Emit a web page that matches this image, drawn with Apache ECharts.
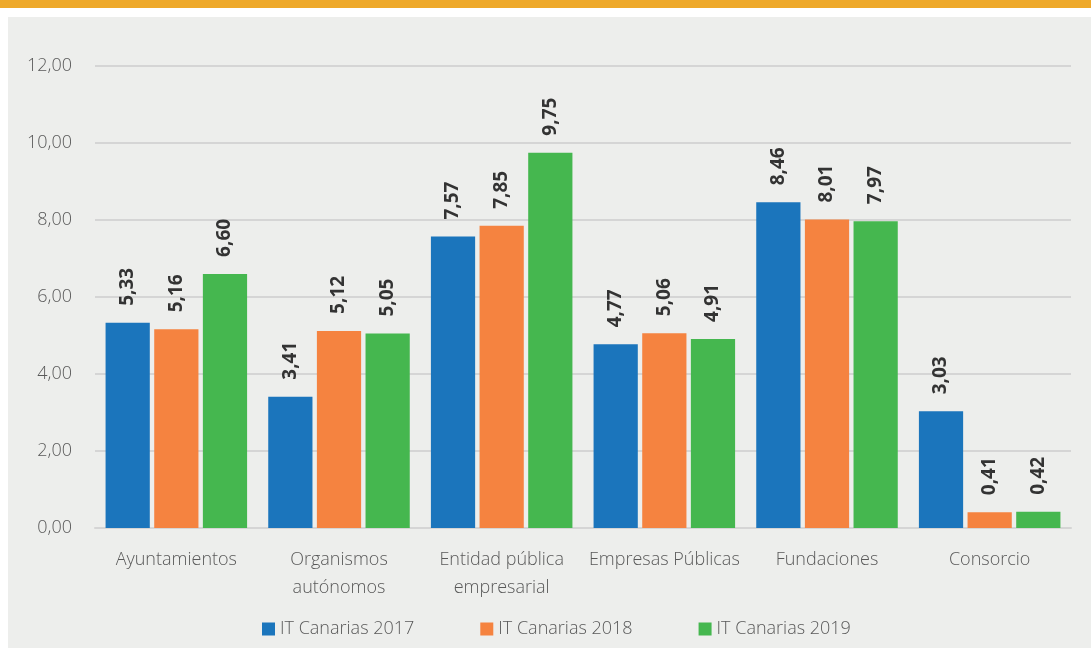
<!DOCTYPE html>
<html><head><meta charset="utf-8">
<script src="https://cdn.jsdelivr.net/npm/echarts@6/dist/echarts.min.js"></script>
<style>
html,body{margin:0;padding:0;background:#fff;}
#top{position:absolute;left:0;top:0;width:1091px;height:8px;background:#EEA92A;}
#panel{position:absolute;left:8px;top:17px;width:1083px;height:631px;background:#EDEEEC;}
#c{position:absolute;left:0;top:0;width:1091px;height:648px;}
</style></head>
<body>
<div id="top"></div><div id="panel"></div>
<div id="c"></div>
<script>
const categories = ['Ayuntamientos', 'Organismos\nautónomos', 'Entidad pública\nempresarial', 'Empresas Públicas', 'Fundaciones', 'Consorcio'];
const seriesNames = ['IT Canarias 2017', 'IT Canarias 2018', 'IT Canarias 2019'];
const values2017 = [5.33, 3.41, 7.57, 4.77, 8.46, 3.03];
const values2018 = [5.16, 5.12, 7.85, 5.06, 8.01, 0.41];
const values2019 = [6.60, 5.05, 9.75, 4.91, 7.97, 0.42];
const colors = ['#1B75BC', '#F58340', '#45B74F'];
const font = '"Open Sans", sans-serif';
const fmt = v => v.toFixed(2).replace('.', ',');
const chart = echarts.init(document.getElementById('c'));
const mk = (name, data, i) => ({
  name, type: 'bar', data, barGap: '10%', barCategoryGap: '13%',
  itemStyle: {color: colors[i]},
  label: {show: true, position: 'top', rotate: 90, align: 'left', verticalAlign: 'middle', distance: 17,
    formatter: p => fmt(p.value), fontFamily: font, fontWeight: 'bold', fontSize: 19, color: '#333'}
});
chart.setOption({
  animation: false,
  textStyle: {fontFamily: font},
  grid: {left: 95, right: 20, top: 66, bottom: 120, containLabel: false},
  legend: {left: 257, bottom: 5, itemGap: 66, itemWidth: 13, itemHeight: 13, icon: 'rect',
    textStyle: {fontFamily: font, fontWeight: 300, fontSize: 18, color: '#595959'}},
  xAxis: {type: 'category', data: categories,
    axisLine: {lineStyle: {color: '#D5D5D5', width: 2}}, axisTick: {show: false},
    axisLabel: {fontFamily: font, fontWeight: 300, fontSize: 18, color: '#595959', lineHeight: 28, margin: 18, interval: 0}},
  yAxis: {type: 'value', min: 0, max: 12, interval: 2,
    axisLabel: {formatter: v => fmt(v), fontFamily: font, fontWeight: 300, fontSize: 18, color: '#595959', margin: 23},
    splitLine: {lineStyle: {color: '#D5D5D5', width: 2}}},
  series: [mk(seriesNames[0], values2017, 0), mk(seriesNames[1], values2018, 1), mk(seriesNames[2], values2019, 2)]
});
</script>
</body></html>
